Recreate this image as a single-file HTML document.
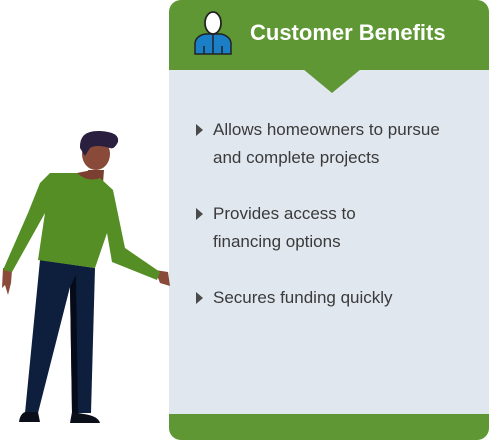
<!DOCTYPE html>
<html><head><meta charset="utf-8"><style>
body{margin:0;width:490px;height:440px;background:#fff;position:relative;overflow:hidden;font-family:"Liberation Sans",Arial,sans-serif}
.card{position:absolute;left:169px;top:0;width:320px;height:440px;background:#E1E7EF;border-radius:12px;overflow:hidden}
.head{position:absolute;left:0;top:0;width:320px;height:70px;background:#5E9734}
.foot{position:absolute;left:0;bottom:0;width:320px;height:26px;background:#5E9734}
.title{position:absolute;left:81px;top:20px;color:#fff;font-weight:bold;font-size:22px}
.item{position:absolute;left:44px;font-size:17px;line-height:28px;color:#3a3a3a}
.bul{position:absolute;left:27px;width:0;height:0;border-left:7px solid #4a4a4a;border-top:6px solid transparent;border-bottom:6px solid transparent}
</style></head><body>
<div class="card">
 <div class="head"></div>
 <svg style="position:absolute;left:0;top:0" width="320" height="100"><polygon points="134,69 192,69 163,93" fill="#5E9734"/></svg>
 <svg style="position:absolute;left:24px;top:10px" width="40" height="45" viewBox="0 0 40 45">
  <path d="M2,44 L2,33 Q3,26 12,24 L28,24 Q37,26 38,33 L38,44 Z" fill="#1a7fc7" stroke="#222" stroke-width="1.5"/>
  <path d="M20,24 L20,44 M11,36 L11,44 M29,36 L29,44" stroke="#222" stroke-width="1.5"/>
  <ellipse cx="20" cy="13" rx="8" ry="11" fill="#fff" stroke="#222" stroke-width="1.8"/>
 </svg>
 <div class="title">Customer Benefits</div>
 <div class="bul" style="top:124px"></div>
 <div class="item" style="top:116px">Allows homeowners to pursue<br>and complete projects</div>
 <div class="bul" style="top:208px"></div>
 <div class="item" style="top:200px">Provides access to<br>financing options</div>
 <div class="bul" style="top:292px"></div>
 <div class="item" style="top:284px">Secures funding quickly</div>
 <div class="foot"></div>
</div>
<svg style="position:absolute;left:0;top:0" width="180" height="440">
 <polygon points="40,260 95,268 91,413 72,413 70,287 38,413 25,413" fill="#0E1F3E"/>
 <polygon points="70,287 76,275 78,413 72,413" fill="#050B18"/>
 <path d="M25,412 L38,412 L40,422 L19,422 Q20,414 25,412Z" fill="#0a0f1a"/>
 <path d="M72,412 L84,414 Q98,416 100,423 L70,423Z" fill="#0a0f1a"/>
 <path d="M3,268 L12,270 L11,283 L8,295 L5,285 L2,288Z" fill="#8A4A3A"/>
 <path d="M155,270 L168,272 L170,286 L160,283Z" fill="#8A4A3A"/>
 <polygon points="88,170 104,170 103,183 92,183" fill="#7a3f30"/>
 <polygon points="50,173 77,173 100,178 113,190 125,248 160,272 157,280 112,262 107,233 95,268 38,260 45,213 12,272 3,270 28,213 40,183" fill="#558E25"/>
 <path d="M77,173 Q88,183 100,178 L92,170 Z" fill="#7a3f30"/>
 <ellipse cx="96" cy="154" rx="14" ry="16" fill="#8A4A3A"/>
 <path d="M80,148 Q79,130 100,131 Q120,132 118,142 Q114,150 110,148 Q96,144 90,148 L85,156Z" fill="#2B1F3F"/>
</svg>
</body></html>
